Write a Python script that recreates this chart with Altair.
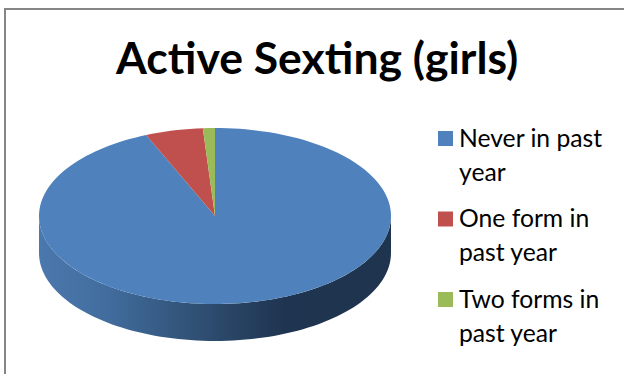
import math
import altair as alt

TITLE = "Active Sexting (girls)"
CATEGORIES = ["Never in past year", "One form in past year", "Two forms in past year"]
LEGEND_LINES = ["Never in past\nyear", "One form in\npast year", "Two forms in\npast year"]
SHARES = [93.6, 5.3, 1.1]
COLORS = ["#4f81bd", "#c0504d", "#9bbb59"]
WALL_STOPS = [
    (0.0, "#4b78ad"), (0.2, "#416c9d"), (0.5, "#2c4a6c"),
    (0.7, "#1f3450"), (1.0, "#1f344e"),
]

SQUASH = 0.5      # ellipse height relative to its width
DEPTH = 0.21      # wall height of the disc, in radius units


def rim(deg):
    """Point on the tilted disc's rim, clockwise from twelve o'clock."""
    a = math.radians(deg)
    return [math.sin(a), math.cos(a) * SQUASH]


def wedge(start, end):
    steps = max(2, int((end - start) / 2))
    arc = [rim(start + (end - start) * i / steps) for i in range(steps + 1)]
    return [[0, 0]] + arc + [[0, 0]]


def feature(ring, category):
    return {
        "type": "Feature",
        "properties": {"category": category},
        "geometry": {"type": "Polygon", "coordinates": [ring]},
    }


# Top face: one wedge per category, starting at twelve o'clock
faces = []
start = 0.0
for name, share in zip(CATEGORIES, SHARES):
    end = start + share * 3.6
    faces.append(feature(wedge(start, end), name))
    start = end

# Front wall: the visible lower half of the rim, extruded downward
front = [rim(d) for d in range(90, 271, 2)]
lowered = [[x, y - DEPTH] for x, y in reversed(front)]
wall = [feature(front + lowered + [front[0]], CATEGORIES[0])]

projection = alt.Projection(type="identity", reflectY=True, scale=176, translate=[215, 216])

wall_layer = (
    alt.Chart(alt.Data(values=wall))
    .mark_geoshape(
        stroke=None,
        fill=alt.Gradient(
            gradient="linear", x1=0, x2=1, y1=0, y2=0,
            stops=[alt.GradientStop(offset=o, color=c) for o, c in WALL_STOPS],
        ),
    )
    .project(**projection.to_dict())
)

color_scale = alt.Scale(domain=CATEGORIES, range=COLORS)

face_layer = (
    alt.Chart(alt.Data(values=faces))
    .mark_geoshape(stroke=None)
    .encode(fill=alt.Fill("properties.category:N", scale=color_scale, legend=None))
    .project(**projection.to_dict())
)

legend_rows = [{"category": c, "text": t} for c, t in zip(CATEGORIES, LEGEND_LINES)]
row_scale = alt.Scale(type="point", domain=CATEGORIES, range=[138.5, 299.5], padding=0)

legend_swatches = (
    alt.Chart(alt.Data(values=legend_rows))
    .mark_square(size=225, opacity=1)
    .encode(
        x=alt.value(445.5),
        y=alt.Y("category:N", scale=row_scale, axis=None),
        fill=alt.Fill("category:N", scale=color_scale, legend=None),
    )
)

legend_labels = (
    alt.Chart(alt.Data(values=legend_rows))
    .mark_text(
        align="left", baseline="alphabetic", dy=8, lineBreak="\n", lineHeight=34,
        font="Lato", fontSize=24.7, color="#000000",
    )
    .encode(
        x=alt.value(459),
        y=alt.Y("category:N", scale=row_scale, axis=None),
        text="text:N",
    )
)

# Frame of the chart area: its right and bottom edges run off the page
frame_top = alt.Chart().mark_rule(color="#868686", strokeWidth=2).encode(
    x=alt.value(4), x2=alt.value(624), y=alt.value(9)
)
frame_left = alt.Chart().mark_rule(color="#868686", strokeWidth=2).encode(
    x=alt.value(5), y=alt.value(9), y2=alt.value(374)
)

chart = (
    alt.layer(frame_top, frame_left, wall_layer, face_layer, legend_swatches, legend_labels)
    .resolve_scale(y="shared")
    .properties(
        width=624,
        height=374,
        padding=0,
        autosize=alt.AutoSizeParams(type="none"),
        background="white",
        title=alt.TitleParams(
            TITLE, font="Lato", fontSize=44.5, fontWeight="bold", color="#000000",
            anchor="start", align="left", baseline="alphabetic", offset=0, dx=116, dy=118,
        ),
    )
    .configure_view(stroke=None)
)

chart.save("out.html", embed_options={"renderer": "svg", "actions": False})
